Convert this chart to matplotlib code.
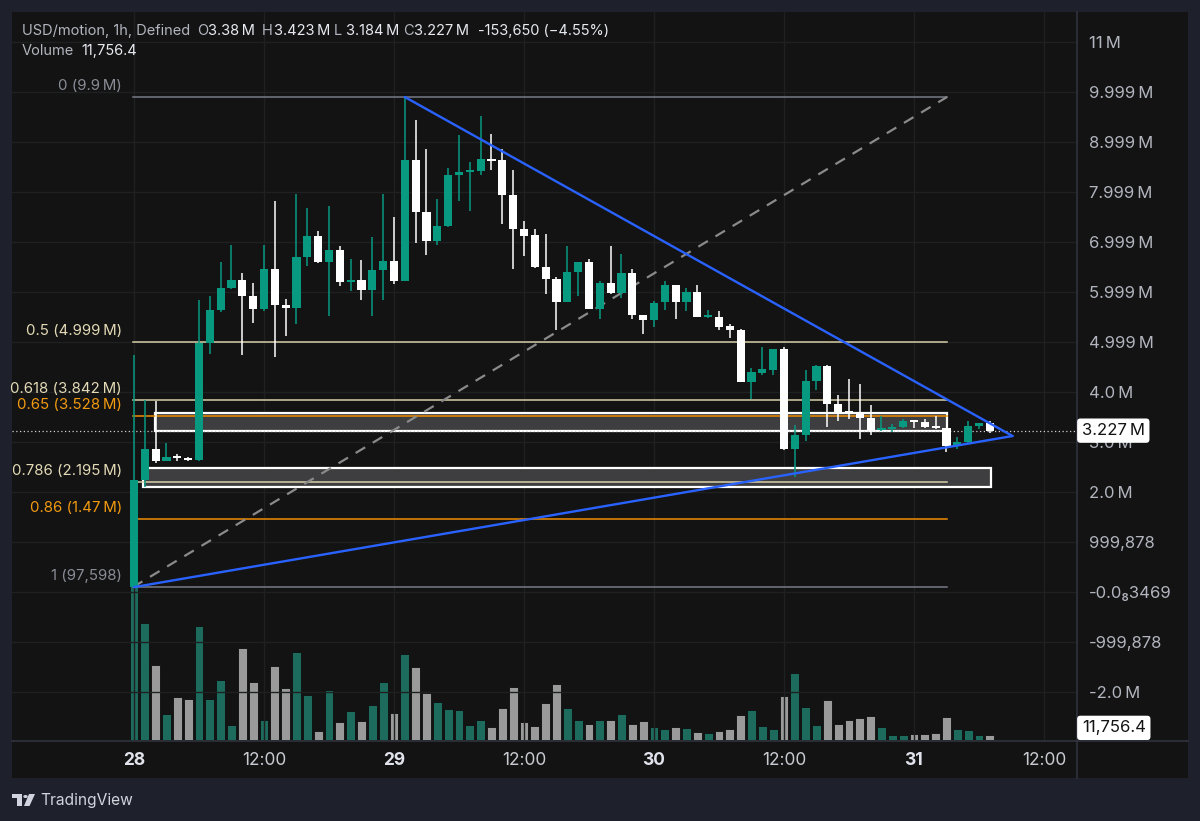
import numpy as np
import matplotlib
matplotlib.use("Agg")
import matplotlib.pyplot as plt
from matplotlib.patches import Rectangle, Circle, Polygon
from matplotlib.transforms import blended_transform_factory

plt.rcParams['font.family'] = ['Inter', 'DejaVu Sans']

# hourly candles, prices in millions
opens = [0.098, 2.24, 2.86, 2.62, 2.70, 2.68, 2.64, 4.98, 5.63, 6.08,
         6.23, 5.92, 5.65, 6.45, 5.73, 5.68, 6.69, 7.11, 6.59, 6.84,
         6.20, 6.24, 6.04, 6.44, 6.61, 6.21, 8.64, 7.60, 7.01, 7.31,
         8.33, 8.40, 8.42, 8.66, 8.63, 7.93, 7.26, 7.13, 6.49, 6.27,
         5.81, 6.39, 6.59, 5.66, 6.17, 5.97, 6.37, 5.54, 5.44, 5.79,
         6.13, 5.79, 6.00, 5.49, 5.51, 5.31, 5.24, 4.19, 4.37, 4.44,
         4.85, 2.85, 3.13, 4.21, 4.52, 3.75, 3.60, 3.58, 3.48, 3.24,
         3.26, 3.29, 3.42, 3.40, 3.30, 3.27, 2.92, 2.99, 3.31, 3.38]
highs = [4.74, 3.84, 3.83, 2.98, 2.76, 2.70, 5.83, 5.91, 6.59, 6.94,
         6.37, 6.17, 6.93, 7.82, 5.86, 7.95, 7.67, 7.21, 7.71, 6.91,
         6.65, 6.63, 7.09, 7.95, 7.49, 9.90, 9.44, 8.85, 7.85, 8.47,
         9.13, 8.59, 9.51, 9.16, 8.85, 8.44, 7.42, 7.25, 7.15, 6.31,
         6.92, 6.60, 6.66, 6.21, 6.91, 6.77, 6.46, 5.54, 5.82, 6.21,
         6.13, 6.07, 6.14, 5.64, 5.62, 5.36, 5.27, 4.49, 4.91, 4.86,
         4.91, 3.34, 4.44, 4.54, 4.53, 3.94, 4.27, 4.17, 3.75, 3.53,
         3.37, 3.47, 3.44, 3.46, 3.52, 3.27, 3.11, 3.43, 3.39, 3.423]
lows = [0.098, 2.10, 2.58, 2.62, 2.62, 2.62, 2.62, 4.76, 5.60, 6.05,
        4.74, 5.37, 5.61, 4.69, 5.11, 5.36, 6.52, 6.57, 5.51, 6.11,
        6.01, 5.85, 5.51, 5.84, 6.16, 6.21, 6.97, 6.73, 6.93, 7.29,
        7.81, 7.61, 8.34, 8.43, 7.35, 6.45, 6.72, 6.47, 5.95, 5.24,
        5.81, 5.93, 5.65, 5.45, 5.96, 5.89, 5.47, 5.16, 5.31, 5.64,
        5.47, 5.61, 5.49, 5.48, 5.24, 5.09, 4.19, 3.86, 4.34, 4.34,
        2.85, 2.30, 3.02, 4.04, 3.31, 3.43, 3.47, 3.07, 3.15, 3.23,
        3.20, 3.29, 3.29, 3.28, 3.27, 2.81, 2.86, 2.98, 3.27, 3.184]
closes = [2.24, 2.86, 2.62, 2.70, 2.68, 2.64, 4.98, 5.63, 6.08, 6.23,
          5.92, 5.65, 6.45, 5.73, 5.68, 6.69, 7.11, 6.59, 6.84, 6.20,
          6.24, 6.04, 6.44, 6.61, 6.21, 8.64, 7.59, 7.01, 7.31, 8.33,
          8.39, 8.43, 8.65, 8.62, 7.93, 7.26, 7.11, 6.49, 6.26, 5.81,
          6.40, 6.59, 5.66, 6.17, 5.97, 6.37, 5.54, 5.44, 5.77, 6.13,
          5.79, 6.00, 5.49, 5.51, 5.31, 5.24, 4.19, 4.39, 4.45, 4.85,
          2.85, 3.13, 4.21, 4.52, 3.75, 3.59, 3.58, 3.48, 3.24, 3.26,
          3.29, 3.41, 3.39, 3.29, 3.27, 2.92, 2.99, 3.31, 3.37, 3.227]
# volume in thousands
volumes = [404, 259, 166, 58, 95, 92, 254, 90, 133, 34,
           203, 128, 44, 165, 115, 195, 99, 21, 110, 39,
           64, 42, 78, 129, 61, 191, 161, 105, 84, 69,
           67, 34, 44, 28, 70, 118, 39, 32, 82, 124,
           70, 44, 35, 44, 45, 57, 35, 42, 28, 24,
           28, 27, 18, 16, 20, 25, 55, 67, 30, 25,
           98, 148, 73, 34, 88, 35, 44, 49, 54, 28,
           11, 10, 13, 13, 16, 52, 24, 22, 10, 11.7564]

fib_levels = [9.9, 4.999, 3.842, 3.528, 2.195, 1.47, 0.097598]
fib_labels = ['0 (9.9\u2009M)', '0.5 (4.999\u2009M)', '0.618 (3.842\u2009M)', '0.65 (3.528\u2009M)',
              '0.786 (2.195\u2009M)', '0.86 (1.47\u2009M)', '1 (97,598)']
fib_colors = ['#787b86', '#d8cfa8', '#d8cfa8', '#f08c00', '#d8cfa8', '#f08c00', '#787b86']
fib_text_colors = ['#8a8d96', '#e3dab6', '#e3dab6', '#f29a10', '#e3dab6', '#f29a10', '#8a8d96']

price_ticks = [11.0, 9.999, 8.999, 7.999, 6.999, 5.999, 4.999, 4.0, 3.0, 2.0,
               0.999878, 0.0, -0.999878, -2.0]
price_tick_labels = ['11\u2009M', '9.999\u2009M', '8.999\u2009M', '7.999\u2009M', '6.999\u2009M',
                     '5.999\u2009M', '4.999\u2009M', '4.0\u2009M', '3.0\u2009M', '2.0\u2009M',
                     '999,878', '-0.0\u20883469', '-999,878', '-2.0\u2009M']
time_ticks = [0, 12, 24, 36, 48, 60, 72, 84]
time_labels = ['28', '12:00', '29', '12:00', '30', '12:00', '31', '12:00']

# drawings (hour index, price)
box_upper = (1.95, 75.05, 3.22, 3.57)
box_lower = (0.8, 79.1, 2.10, 2.48)
tl_upper = ([25, 81.1], [9.9, 3.12])
tl_lower = ([0, 81.1], [0.097598, 3.12])
fib_x = (-0.1, 75.05)

W, H = 1200, 821
OUTER = '#1e212b'
PANEL = '#131314'
SEP = '#2f333d'
UP = '#089981'
DOWN = '#ffffff'
VOL_UP = '#1c6b5d'
VOL_DOWN = '#9a9a9a'
TXT = '#b2b5be'


def rect(x0, y0, x1, y1):
    return [x0 / W, 1 - y1 / H, (x1 - x0) / W, (y1 - y0) / H]


fig = plt.figure(figsize=(12, 8.21), dpi=100)
fig.patch.set_facecolor(OUTER)
fig.add_artist(Rectangle((12 / W, 1 - 778 / H), 1176 / W, 766 / H,
                         transform=fig.transFigure, facecolor=PANEL, edgecolor='none', zorder=0))

vax = fig.add_axes(rect(12, 12, 1077, 741))
ax = fig.add_axes(rect(12, 12, 1077, 741))
vax.set_facecolor(PANEL)
ax.set_facecolor('none')

n = len(opens)
idx = np.arange(n)
o = np.array(opens)
c = np.array(closes)
up = c >= o

# volume
vax.bar(idx, volumes, width=0.82, color=[VOL_UP if u else VOL_DOWN for u in up],
        edgecolor='#0d0d0d', linewidth=0.6)
vax.set_xlim(-11.26, 87.05)
vax.set_ylim(-2.218, 1615)
vax.axis('off')

# grid
ax.set_axisbelow(True)
ax.grid(True, color='#1f2022', linewidth=1.0)

# boxes
for x0, x1, p0, p1 in [box_upper, box_lower]:
    ax.add_patch(Rectangle((x0, p0), x1 - x0, p1 - p0, facecolor='#3e3e40',
                           edgecolor='#ffffff', linewidth=1.6, zorder=2))

# fib levels
for lev, lab, col, tcol in zip(fib_levels, fib_labels, fib_colors, fib_text_colors):
    ax.plot(fib_x, [lev, lev], color=col, linewidth=1.1, zorder=3)
    ax.annotate(lab, xy=(0, lev), xytext=(-12, 4), textcoords='offset pixels',
                ha='right', va='bottom', color=tcol, fontsize=10.8, zorder=3,
                annotation_clip=False)

ax.plot([fib_x[0], fib_x[1]], [fib_levels[-1], fib_levels[0]], color='#8a8a8a',
        linewidth=1.6, linestyle=(0, (5, 4)), zorder=3)

# current price line
ax.axhline(closes[-1], color='#d0d0d0', linewidth=0.9, linestyle=(0, (1, 2)), zorder=3)

# candles
colors = [UP if u else DOWN for u in up]
ax.vlines(idx, lows, highs, colors=colors, linewidth=1.1, zorder=4)
body_bottom = np.minimum(o, c)
body_h = np.maximum(np.abs(c - o), 0.04)
ax.bar(idx, body_h, bottom=body_bottom, width=0.76, color=colors,
       edgecolor='none', zorder=4)

# trend lines
ax.plot(*tl_upper, color='#2962ff', linewidth=1.7, zorder=5, solid_capstyle='round')
ax.plot(*tl_lower, color='#2962ff', linewidth=1.7, zorder=5, solid_capstyle='round')

ax.set_xlim(-11.26, 87.05)
ax.set_ylim(-2.98, 11.6)

ax.yaxis.tick_right()
ax.set_yticks(price_ticks)
ax.set_yticklabels(price_tick_labels)
ax.set_xticks(time_ticks)
ax.set_xticklabels(time_labels)
ax.tick_params(axis='y', length=0, pad=8.6, labelsize=12, labelcolor=TXT)
ax.tick_params(axis='x', length=0, pad=8.2, labelsize=12.5, labelcolor='#c8cad0')
for lbl in ax.get_xticklabels():
    if ':' not in lbl.get_text():
        lbl.set_fontweight('bold')
        lbl.set_color('#e0e3eb')

for side in ['top', 'left']:
    ax.spines[side].set_visible(False)
ax.spines['right'].set_color(SEP)
ax.spines['bottom'].set_color(SEP)
ax.spines['right'].set_linewidth(1.2)
ax.spines['bottom'].set_linewidth(1.2)

# separators into the axis area
fig.add_artist(plt.Line2D([1077 / W, 1077 / W], [1 - 741 / H, 1 - 778 / H], color=SEP, lw=1.2))
fig.add_artist(plt.Line2D([1077 / W, 1188 / W], [1 - 741 / H, 1 - 741 / H], color=SEP, lw=1.2))

# last price label
bt = blended_transform_factory(ax.transAxes, ax.transData)
ax.text(1.0045, closes[-1], '3.227\u2009M', transform=bt, ha='left', va='center',
        fontsize=12, color='#131313', zorder=10, clip_on=False,
        bbox=dict(boxstyle='round,pad=0.28,rounding_size=0.2', facecolor='white', edgecolor='none'))
ax.text(1.0045, 0.018, '11,756.4', transform=ax.transAxes, ha='left', va='center',
        fontsize=12, color='#131313', zorder=10, clip_on=False,
        bbox=dict(boxstyle='round,pad=0.28,rounding_size=0.2', facecolor='white', edgecolor='none'))


def ftext(x, y, s, color=TXT, size=10.5, weight='normal'):
    fig.text(x / W, 1 - y / H, s, color=color, fontsize=size, va='center', ha='left',
             fontweight=weight)


# header
ftext(22, 31, 'USD/motion, 1h, Defined')
head = [(197, 'O', '3.38\u2009M'), (262, 'H', '3.423\u2009M'),
        (334, 'L', '3.184\u2009M'), (403, 'C', '3.227\u2009M')]
for x, k, v in head:
    ftext(x, 31, k)
    ftext(x + 11.5, 31, v, color='#e8eaf0')
ftext(478, 31, '-153,650 (\u22124.55%)', color='#e8eaf0')
ftext(22, 51, 'Volume')
ftext(81, 51, '11,756.4', color='#e8eaf0')

# TradingView logo
logo = '#d1d4dc'
fig.add_artist(Polygon([(12 / W, 1 - 794 / H), (22 / W, 1 - 794 / H), (22 / W, 1 - 806 / H),
                        (17 / W, 1 - 806 / H), (17 / W, 1 - 798 / H), (12 / W, 1 - 798 / H)],
                       closed=True, transform=fig.transFigure, facecolor=logo, edgecolor='none'))
fig.add_artist(Circle((25.5 / W, 1 - 796.5 / H), 2.2 / W, transform=fig.transFigure,
                      facecolor=logo, edgecolor='none'))
fig.add_artist(Polygon([(29 / W, 1 - 794 / H), (35 / W, 1 - 794 / H), (29.5 / W, 1 - 806 / H),
                        (24 / W, 1 - 806 / H)],
                       closed=True, transform=fig.transFigure, facecolor=logo, edgecolor='none'))
ftext(40, 800, 'TradingView', color=logo, size=11.2)

fig.savefig('out.png', dpi=100, facecolor=fig.get_facecolor())
